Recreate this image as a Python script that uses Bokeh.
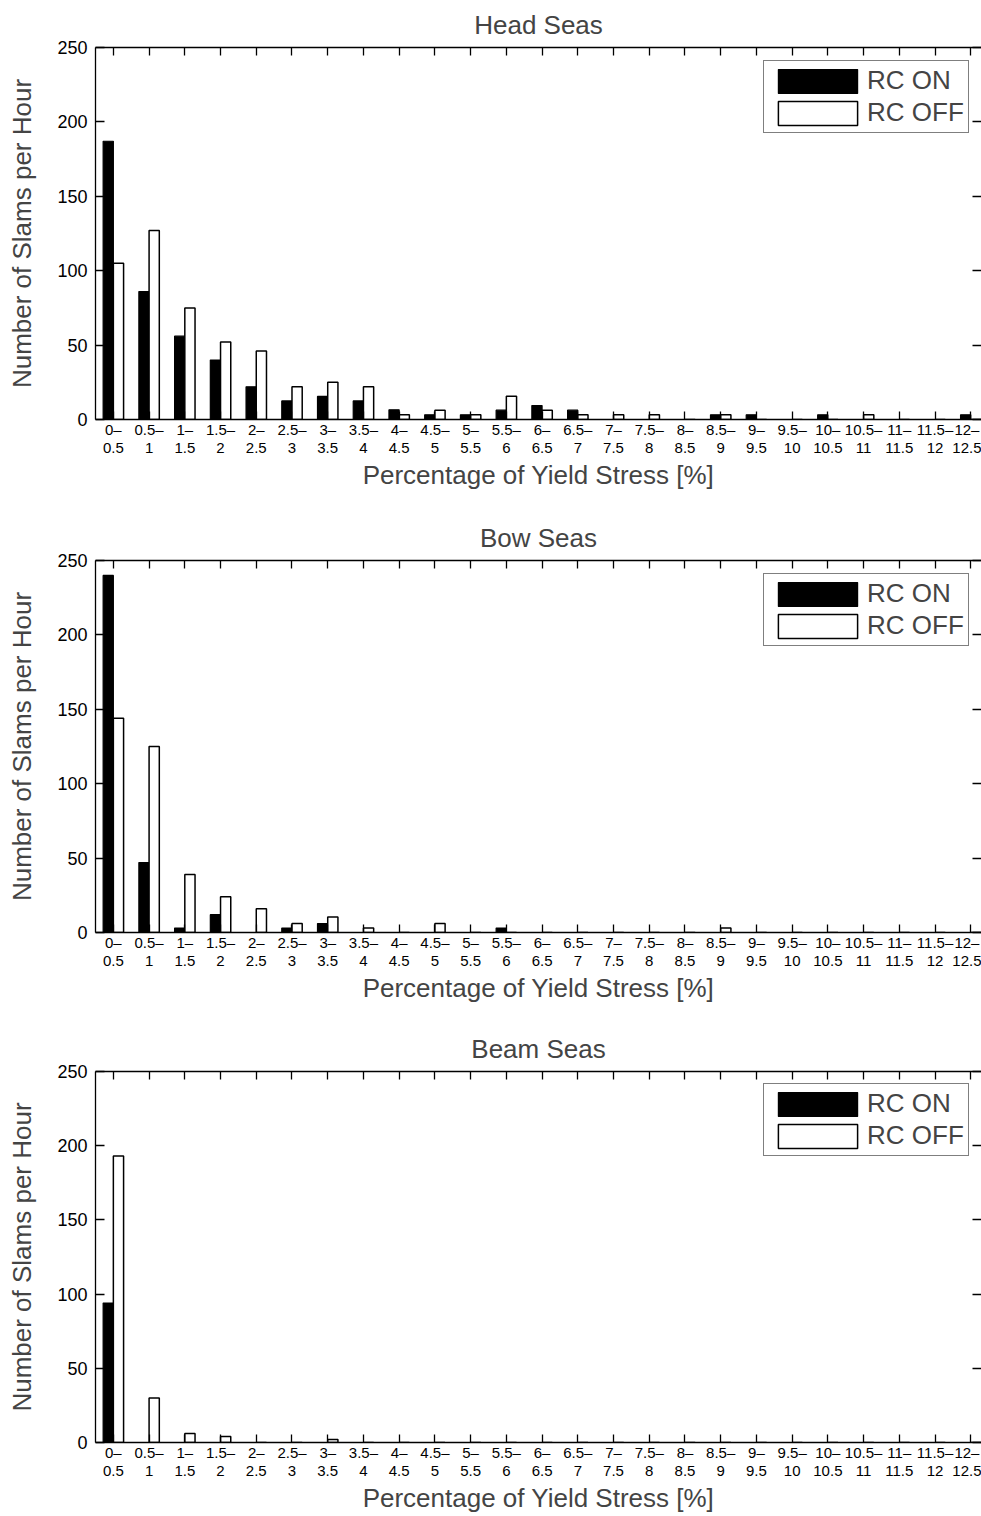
import numpy as np
from bokeh.plotting import figure
from bokeh.models import (ColumnDataSource, FixedTicker, LinearAxis, Range1d,
                          Legend, LegendItem)
from bokeh.layouts import column
from bokeh.transform import dodge
from bokeh.embed import file_html
from bokeh.resources import INLINE

# ---------------- data ----------------
tick_labels = [
    "0\u2013\n0.5", "0.5\u2013\n1", "1\u2013\n1.5", "1.5\u2013\n2", "2\u2013\n2.5",
    "2.5\u2013\n3", "3\u2013\n3.5", "3.5\u2013\n4", "4\u2013\n4.5", "4.5\u2013\n5",
    "5\u2013\n5.5", "5.5\u2013\n6", "6\u2013\n6.5", "6.5\u2013\n7", "7\u2013\n7.5",
    "7.5\u2013\n8", "8\u2013\n8.5", "8.5\u2013\n9", "9\u2013\n9.5", "9.5\u2013\n10",
    "10\u2013\n10.5", "10.5\u2013\n11", "11\u2013\n11.5", "11.5\u2013\n12", "12\u2013\n12.5",
]

head_on = [187, 86, 56, 40, 22, 12.5, 15.5, 12.5, 6.5, 3.2, 3.2, 6.3, 9.4, 6.3, 0,
           0, 0, 3.2, 3.2, 0, 3.2, 0, 0, 0, 3.2]
head_off = [105, 127, 75, 52, 46, 22, 25, 22, 3.2, 6.3, 3.2, 15.7, 6.3, 3.2, 3.2,
            3.2, 0, 3.2, 0, 0, 0, 3.2, 0, 0, 0]

bow_on = [240, 47, 3, 12, 0, 3, 6, 0, 0, 0, 0, 3, 0, 0, 0,
          0, 0, 0, 0, 0, 0, 0, 0, 0, 0]
bow_off = [144, 125, 39, 24, 16, 6, 10.5, 3, 0, 6, 0, 0, 0, 0, 0,
           0, 0, 3, 0, 0, 0, 0, 0, 0, 0]

beam_on = [94, 0, 0, 0, 0, 0, 0, 0, 0, 0, 0, 0, 0, 0, 0,
           0, 0, 0, 0, 0, 0, 0, 0, 0, 0]
beam_off = [193, 30, 6, 4, 0, 0, 2, 0, 0, 0, 0, 0, 0, 0, 0,
            0, 0, 0, 0, 0, 0, 0, 0, 0, 0]

y_ticks = [0, 50, 100, 150, 200, 250]

FONT = "Liberation Sans"


def make_panel(title, on_vals, off_vals, height, bottom_border):
    n = len(tick_labels)
    idx = list(range(1, n + 1))
    src = ColumnDataSource(dict(x=idx, on=on_vals, off=off_vals))
    p = figure(width=981, height=height, title=title,
               x_range=Range1d(0.5, 25.3), y_range=Range1d(0, 250),
               output_backend="svg", toolbar_location=None,
               min_border_left=95, min_border_right=0, min_border_top=47,
               min_border_bottom=bottom_border,
               x_axis_location=None, y_axis_location=None)
    p.outline_line_color = None
    p.xgrid.visible = False
    p.ygrid.visible = False
    p.background_fill_color = "white"
    p.border_fill_color = "white"

    p.title.align = "center"
    p.title.vertical_align = "top"
    p.title.text_font = FONT
    p.title.text_font_size = "26px"
    p.title.text_font_style = "normal"
    p.title.text_line_height = 0.8
    p.title.standoff = 11

    xt = FixedTicker(ticks=idx)
    yt = FixedTicker(ticks=y_ticks)
    overrides = {i: lab for i, lab in zip(idx, tick_labels)}

    def style(ax, tick_len):
        ax.axis_line_color = "black"
        ax.axis_line_width = 1.3
        ax.major_tick_line_color = "black"
        ax.major_tick_line_width = 1.3
        ax.major_tick_in = tick_len
        ax.major_tick_out = 0
        ax.minor_tick_line_color = None

    def hide_labels(ax):
        ax.major_label_text_font_size = "0px"
        ax.major_label_text_color = None
        ax.major_label_standoff = 0

    bottom = LinearAxis(ticker=xt, major_label_overrides=overrides,
                        axis_label="Percentage of Yield Stress [%]")
    style(bottom, 8)
    bottom.major_label_text_font = FONT
    bottom.major_label_text_font_size = "15px"
    bottom.major_label_text_line_height = 1.1
    bottom.major_label_text_color = "black"
    bottom.major_label_standoff = 1
    bottom.axis_label_text_font = FONT
    bottom.axis_label_text_font_size = "26px"
    bottom.axis_label_text_font_style = "normal"
    bottom.axis_label_text_line_height = 1.0
    bottom.axis_label_standoff = 1
    p.add_layout(bottom, "below")

    top = LinearAxis(ticker=xt)
    style(top, 8)
    hide_labels(top)
    p.add_layout(top, "above")

    left = LinearAxis(ticker=yt, axis_label="Number of Slams per Hour")
    style(left, 9)
    left.major_label_text_font = FONT
    left.major_label_text_font_size = "18px"
    left.major_label_text_color = "black"
    left.major_label_standoff = 8
    left.axis_label_text_font = FONT
    left.axis_label_text_font_size = "26px"
    left.axis_label_text_font_style = "normal"
    left.axis_label_text_line_height = 1.0
    left.axis_label_standoff = 17
    p.add_layout(left, "left")

    right = LinearAxis(ticker=yt)
    style(right, 9)
    hide_labels(right)
    right.axis_line_color = None
    p.add_layout(right, "right")

    r_on = p.vbar(x=dodge("x", -0.143, range=p.x_range), top="on", width=0.286,
                  bottom=0, source=src, fill_color="black", line_color="black",
                  line_width=1.2)
    r_off = p.vbar(x=dodge("x", 0.143, range=p.x_range), top="off", width=0.286,
                   bottom=0, source=src, fill_color="white", line_color="black",
                   line_width=1.5)

    legend = Legend(items=[LegendItem(label="RC ON", renderers=[r_on]),
                           LegendItem(label="RC OFF", renderers=[r_off])],
                    location=(668, 286))
    legend.label_text_font = FONT
    legend.label_text_font_size = "26px"
    legend.glyph_width = 99
    legend.glyph_height = 30
    legend.label_height = 30
    legend.label_standoff = 0
    legend.padding = 4
    legend.spacing = 1
    legend.margin = 0
    legend.border_line_color = "black"
    legend.border_line_width = 1.2
    legend.background_fill_color = "white"
    legend.background_fill_alpha = 1.0
    p.add_layout(legend)
    return p


p1 = make_panel("Head Seas", head_on, head_off, 513, 94)
p2 = make_panel("Bow Seas", bow_on, bow_off, 511, 92)
p3 = make_panel("Beam Seas", beam_on, beam_off, 492, 73)

p = column(p1, p2, p3, spacing=0)

open("out.html", "w").write(file_html(p, INLINE))
